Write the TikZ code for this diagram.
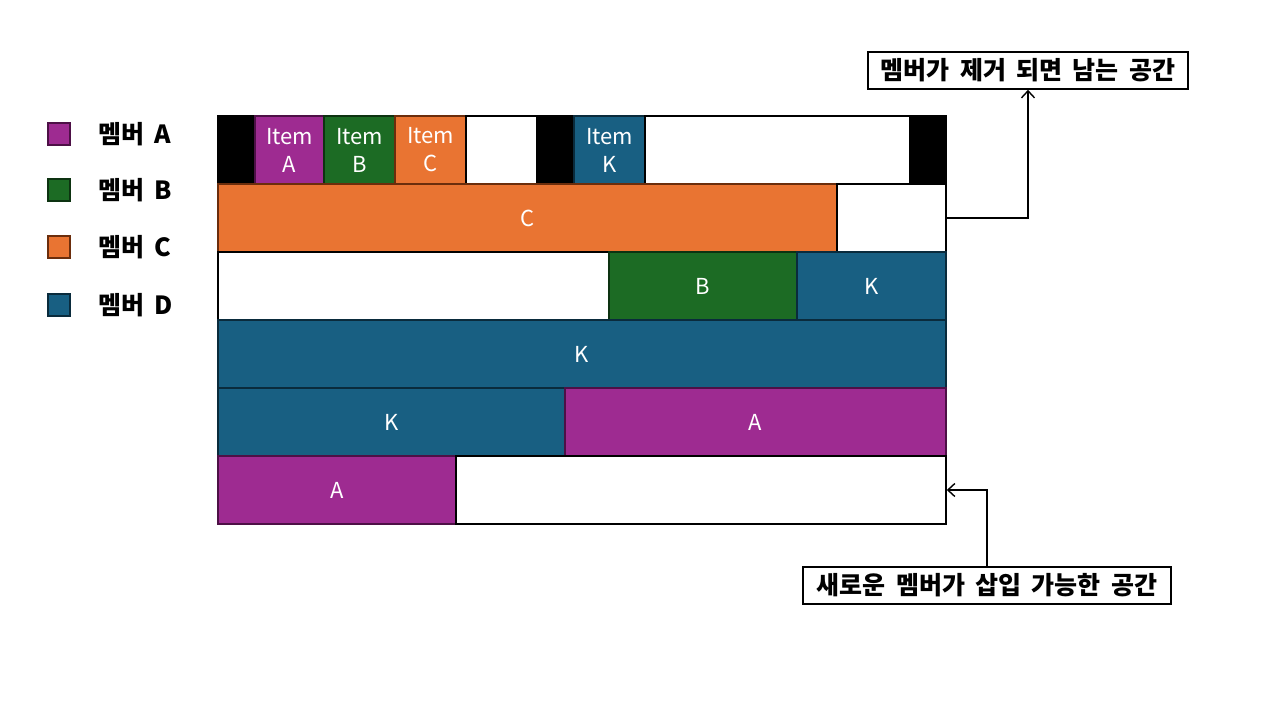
\documentclass[tikz,border=0pt]{standalone}
\usepackage{fontspec}
\setmainfont{Noto Sans CJK KR}
\newfontfamily\krwide[WordSpace=1.8]{Noto Sans CJK KR}
\usetikzlibrary{arrows.meta}

\definecolor{memA}{HTML}{9E2B91}
\definecolor{memAline}{HTML}{4D1046}
\definecolor{memB}{HTML}{1C6B24}
\definecolor{memBline}{HTML}{0D3311}
\definecolor{memC}{HTML}{E97432}
\definecolor{memCline}{HTML}{6B2D0C}
\definecolor{memD}{HTML}{185F82}
\definecolor{memDline}{HTML}{0A2B3C}

\tikzset{
  cell/.style={draw, line width=1.3pt, minimum height=68pt, inner sep=0pt,
    text=white, align=center, font=\fontsize{22}{28}\selectfont},
  cellA/.style={cell, fill=memA, draw=memAline},
  cellB/.style={cell, fill=memB, draw=memBline},
  cellC/.style={cell, fill=memC, draw=memCline},
  cellD/.style={cell, fill=memD, draw=memDline},
  gap/.style={cell, fill=white, draw=black, line width=1.6pt},
  pad/.style={cell, fill=black, draw=black},
  swatch/.style={draw, line width=1.5pt, minimum size=22pt, inner sep=0pt},
  legtext/.style={anchor=west, inner sep=0pt, font=\krwide\bfseries\fontsize{25}{28}\selectfont},
  callout/.style={draw, line width=1.6pt, fill=white, minimum height=37pt,
    inner sep=0pt, font=\krwide\bfseries\fontsize{25}{28}\selectfont},
  pointer/.style={line width=1.4pt, -{Straight Barb[length=7pt,width=13pt,line width=1.4pt]}}
}

\begin{document}
\begin{tikzpicture}[x=1pt, y=-1pt, line join=miter]
  \useasboundingbox[fill=white] (0,0) rectangle (1280,720);

  % Legend.
  \node[swatch, fill=memA, draw=memAline] (swA) at (59,134) {};
  \node[swatch, fill=memB, draw=memBline] (swB) at (59,190) {};
  \node[swatch, fill=memC, draw=memCline] (swC) at (59,247) {};
  \node[swatch, fill=memD, draw=memDline] (swD) at (59,305) {};
  \node[legtext] (lgA) at (98,134) {멤버 A};
  \node[legtext] (lgB) at (98,190) {멤버 B};
  \node[legtext] (lgC) at (98,247) {멤버 C};
  \node[legtext] (lgD) at (98,305) {멤버 D};

  % Row 1: items with padding.
  \node[pad, minimum width=37pt] (p1) at (236.5,150) {};
  \node[cellA, minimum width=69pt] (itA) at (289.5,150) {Item\\A};
  \node[cellB, minimum width=71pt] (itB) at (359.5,150) {Item\\B};
  \node[cellC, minimum width=71pt] (itC) at (430.5,150) {Item\\C};
  \node[gap, minimum width=71pt] (g1) at (501.5,150) {};
  \node[pad, minimum width=37pt] (p2) at (555.5,150) {};
  \node[cellD, minimum width=71pt] (itK) at (609.5,150) {Item\\K};
  \node[gap, minimum width=265pt] (g2) at (777.5,150) {};
  \node[pad, minimum width=36pt] (p3) at (928,150) {};

  % Row 2.
  \node[cellC, minimum width=619pt] (c2) at (527.5,218) {C};
  \node[gap, minimum width=109pt] (g3) at (891.5,218) {};

  % Row 3.
  \node[gap, minimum width=391pt] (g4) at (413.5,286) {};
  \node[cellB, minimum width=188pt] (b3) at (703,286) {B};
  \node[cellD, minimum width=149pt] (k3) at (871.5,286) {K};

  % Row 4.
  \node[cellD, minimum width=728pt] (k4) at (582,354) {K};

  % Row 5.
  \node[cellD, minimum width=347pt] (k5) at (391.5,422) {K};
  \node[cellA, minimum width=381pt] (a5) at (755.5,422) {A};

  % Row 6.
  \node[cellA, minimum width=238pt] (a6) at (337,490) {A};
  \node[gap, minimum width=490pt] (g5) at (701,490) {};

  % Callouts.
  \node[callout, minimum width=320pt] (freed) at (1028,70.5) {멤버가 제거 되면 남는 공간};
  \node[callout, minimum width=368pt] (room) at (987,585.5) {새로운 멤버가 삽입 가능한 공간};
  \draw[pointer] (g3.east) -| (freed.south);
  \draw[pointer] (room.north) |- (g5.east);
\end{tikzpicture}
\end{document}
